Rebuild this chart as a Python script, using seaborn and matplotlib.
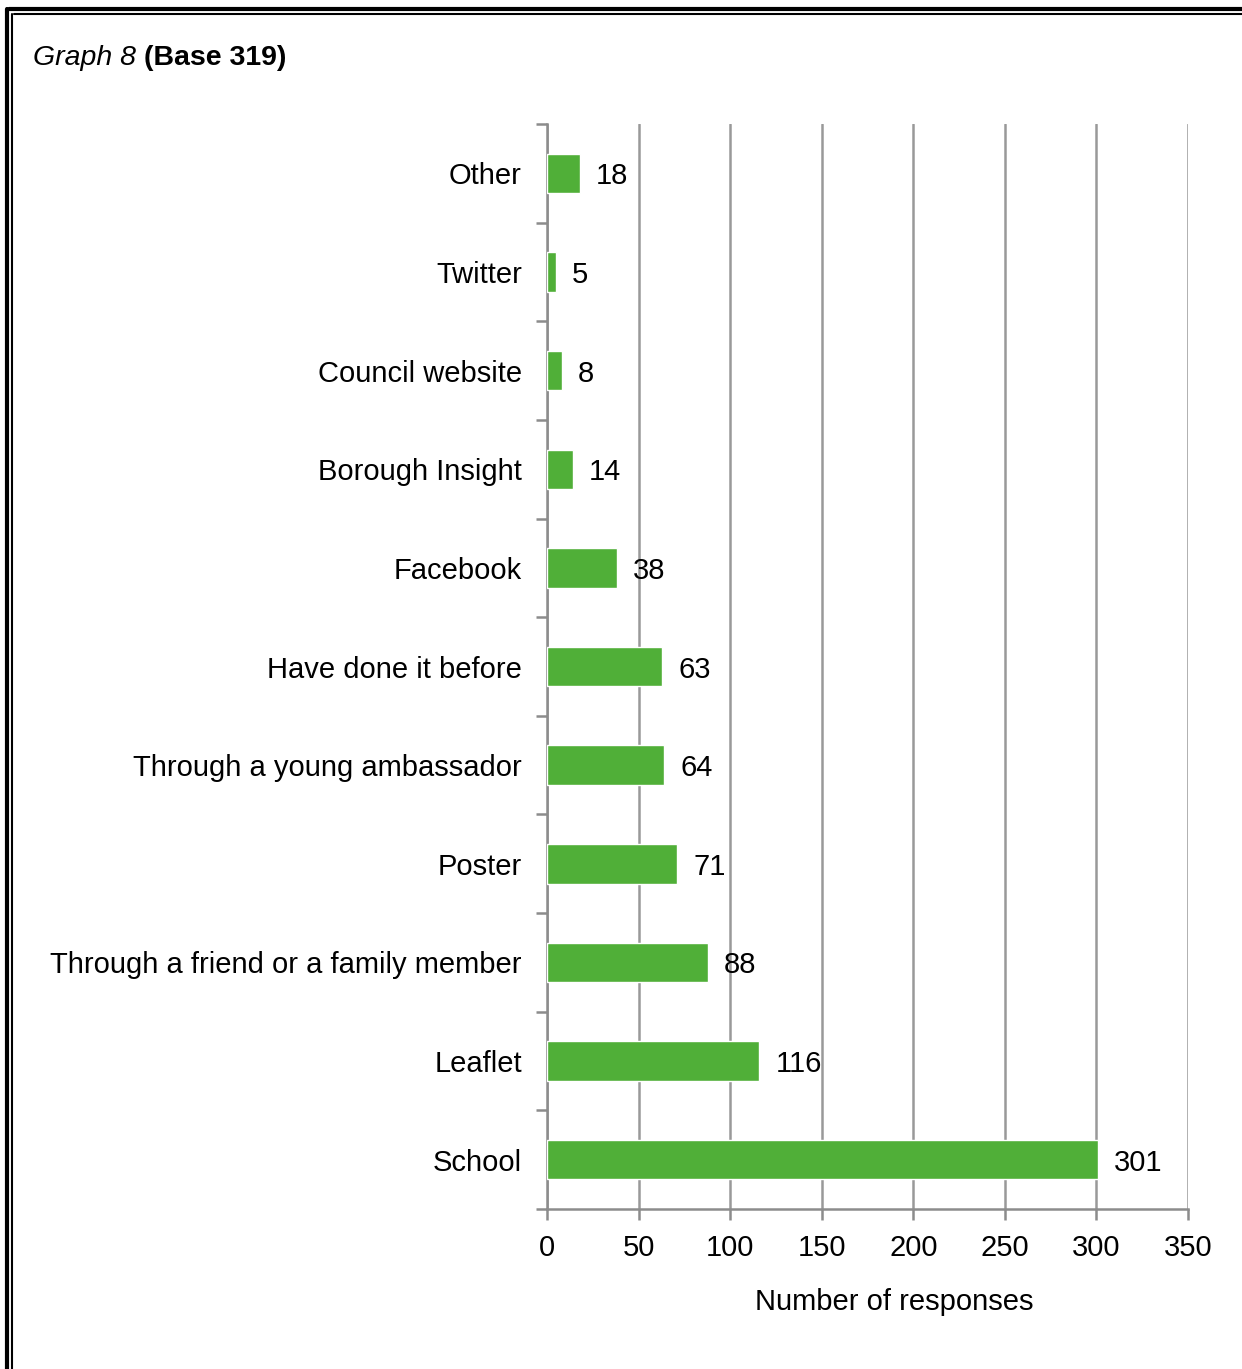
import numpy as np
import pandas as pd
import seaborn as sns
import matplotlib.pyplot as plt
from matplotlib.lines import Line2D

categories = ["Other", "Twitter", "Council website", "Borough Insight", "Facebook",
              "Have done it before", "Through a young ambassador", "Poster",
              "Through a friend or a family member", "Leaflet", "School"]
responses = [18, 5, 8, 14, 38, 63, 64, 71, 88, 116, 301]
x_ticks = [0, 50, 100, 150, 200, 250, 300, 350]

sns.set_style("white")
plt.rcParams['font.family'] = ['Liberation Sans', 'DejaVu Sans']
plt.rcParams['text.color'] = 'black'
plt.rcParams['axes.labelcolor'] = 'black'
plt.rcParams['xtick.labelcolor'] = 'black'
plt.rcParams['ytick.labelcolor'] = 'black'

FS = 21

df = pd.DataFrame({'category': categories, 'responses': responses})

fig = plt.figure(figsize=(12.42, 13.69), dpi=100)
ax = fig.add_axes([547 / 1242, 1 - 1209 / 1369, 641 / 1242, 1085 / 1369])

sns.barplot(data=df, x='responses', y='category', order=categories, orient='h',
            color='#50AF38', saturation=1, width=0.4, ax=ax, zorder=3)

ax.set_xlim(0, 350)
ax.set_xticks(x_ticks)
ax.set_ylim(len(categories) - 0.5, -0.5)
ax.set_yticks(np.arange(len(categories) + 1) - 0.5, minor=True)
ax.set_yticks(np.arange(len(categories)))
ax.set_yticklabels(categories)
ax.grid(axis='x', color='#999999', linewidth=1.8, zorder=0)
ax.set_axisbelow(True)

for s in ['top', 'right']:
    ax.spines[s].set_visible(False)
for s in ['left', 'bottom']:
    ax.spines[s].set_color('#8c8c8c')
    ax.spines[s].set_linewidth(1.8)

ax.tick_params(axis='y', which='major', length=0, pad=18, labelsize=FS)
ax.tick_params(axis='y', which='minor', length=8, width=1.8, color='#8c8c8c', direction='out', left=True)
ax.tick_params(axis='x', length=8, width=1.8, color='#8c8c8c', direction='out', bottom=True,
               pad=10, labelsize=FS)

ax.set_ylabel('')
ax.set_xlabel('Number of responses', fontsize=FS)
ax.xaxis.set_label_coords((894 - 547) / 641, -0.073)

for i, v in enumerate(responses):
    ax.annotate(str(v), (v, i), xytext=(16, 0), textcoords='offset pixels',
                va='center_baseline', ha='left', fontsize=FS)

fig.text(33 / 1242, 1 - 58 / 1369, 'Graph 8', fontsize=20.5, style='italic', va='center')
fig.text(144 / 1242, 1 - 58 / 1369, '(Base 319)', fontsize=20.5, weight='bold', va='center')

# double frame
for off, lw in [(9, 3), (14, 1.5)]:
    fig.add_artist(Line2D([off / 1242, 1], [1 - off / 1369] * 2, color='black', lw=lw))
    fig.add_artist(Line2D([(off - 2) / 1242] * 2, [0, 1 - off / 1369], color='black', lw=lw))

plt.savefig('out.png', dpi=100)
